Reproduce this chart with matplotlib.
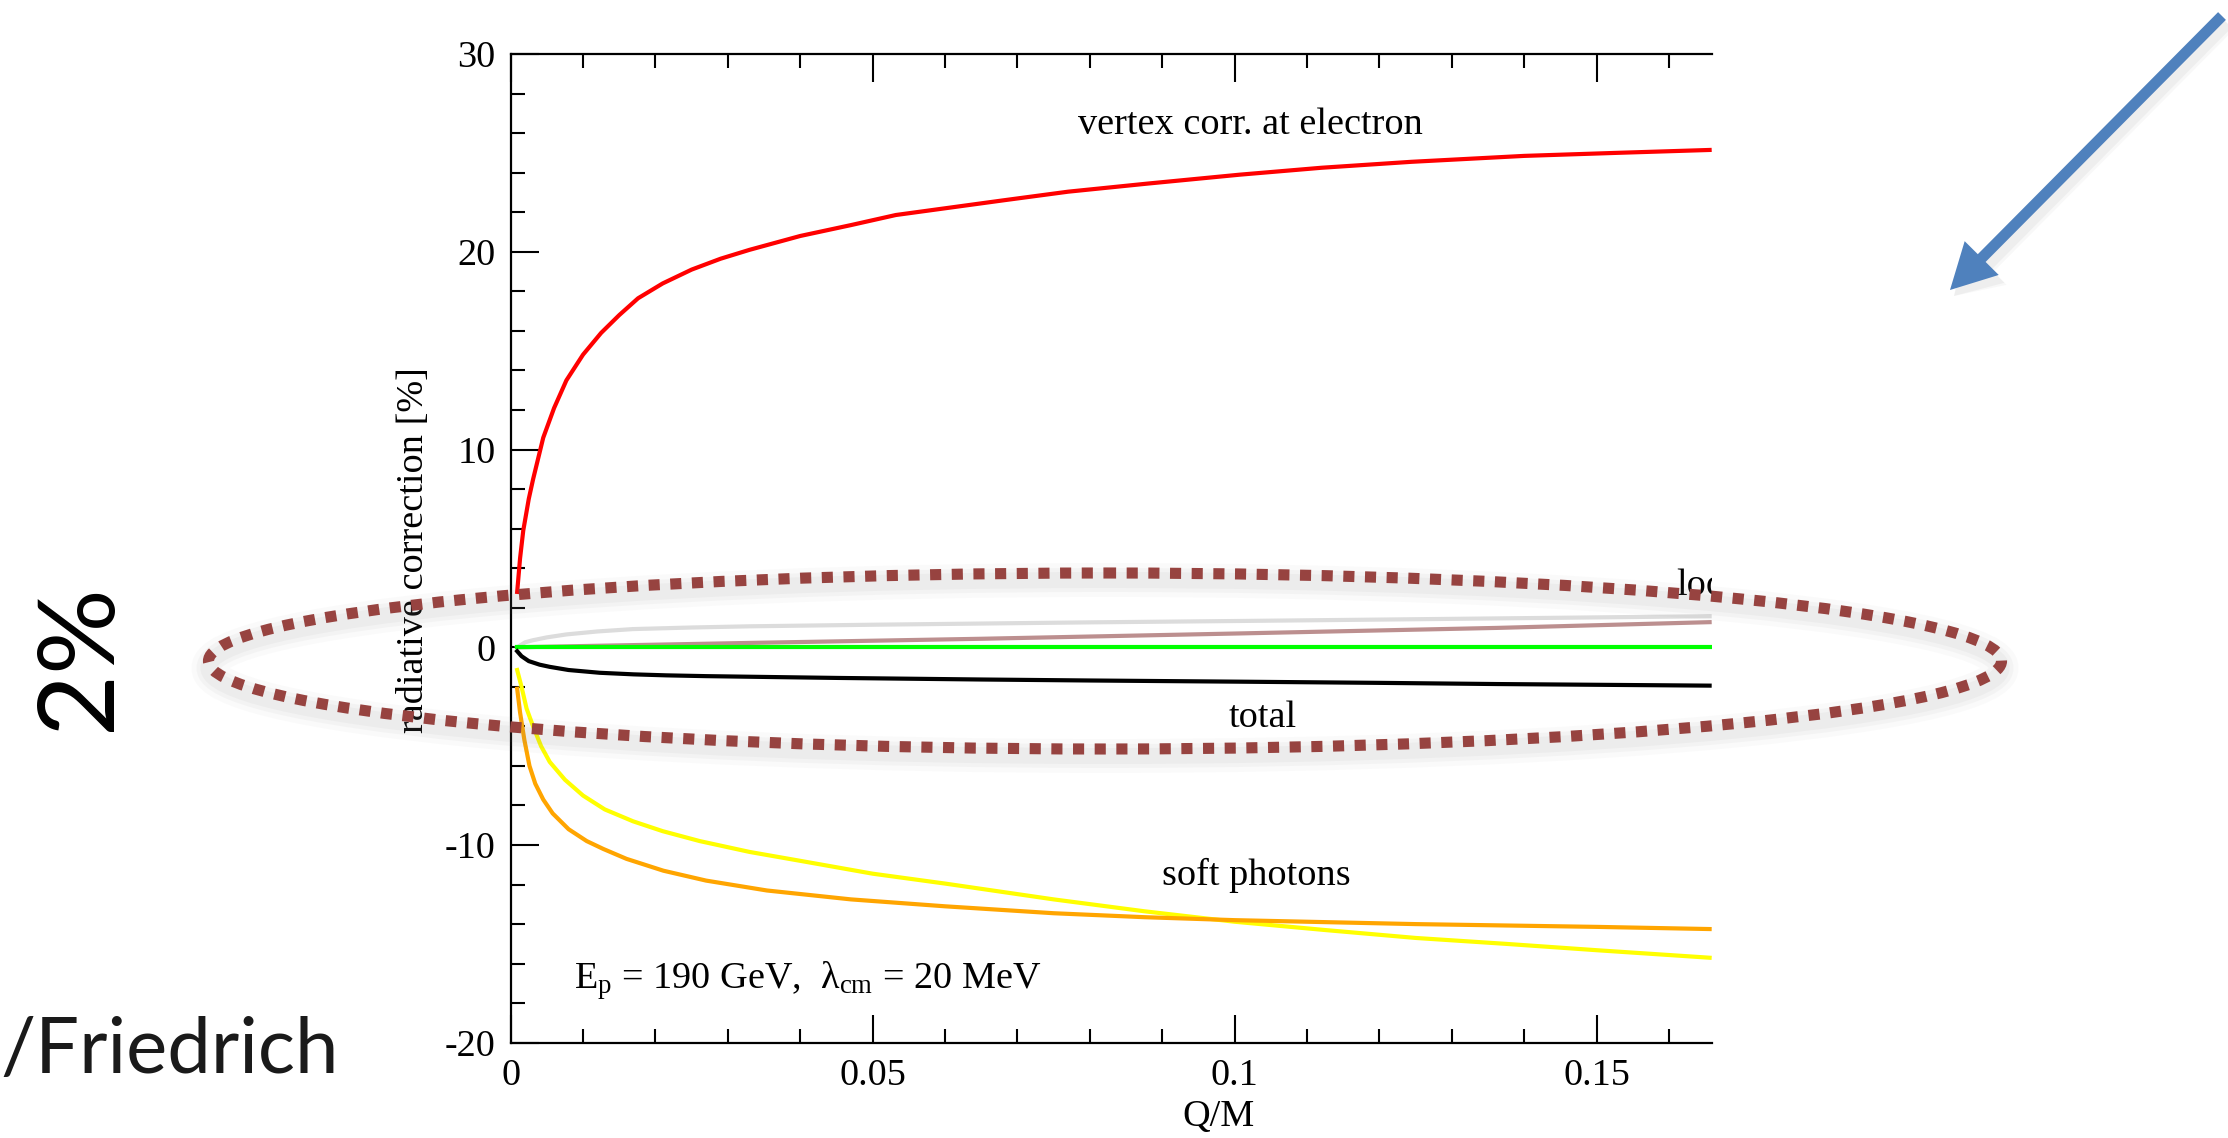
import numpy as np
import matplotlib
matplotlib.use('Agg')
import matplotlib.pyplot as plt
from matplotlib import patches

# values (x = Q/M, y = radiative correction in %)
x_red = [0.0009, 0.0013, 0.00174, 0.0025, 0.0031, 0.0045, 0.006, 0.0077, 0.010, 0.0125, 0.015, 0.0176,
         0.021, 0.025, 0.029, 0.033, 0.040, 0.047, 0.0532, 0.060, 0.068, 0.077, 0.088, 0.1007, 0.112,
         0.1244, 0.140, 0.1525, 0.1656]
y_red = [2.8, 4.5, 5.9, 7.5, 8.5, 10.6, 12.1, 13.5, 14.8, 15.9, 16.8, 17.65,
         18.4, 19.1, 19.65, 20.1, 20.8, 21.35, 21.86, 22.2, 22.6, 23.04, 23.45, 23.9, 24.25,
         24.55, 24.85, 25.0, 25.15]

x_gray = [0.0009, 0.002, 0.003, 0.005, 0.0077, 0.012, 0.0169, 0.025, 0.033, 0.05, 0.065, 0.08,
          0.1007, 0.12, 0.1363, 0.1656]
y_gray = [0.0, 0.25, 0.35, 0.5, 0.65, 0.8, 0.92, 1.0, 1.06, 1.14, 1.2, 1.26,
          1.33, 1.4, 1.46, 1.57]

x_rosy = [0.0009, 0.033, 0.065, 0.1007, 0.1363, 0.1656]
y_rosy = [0.0, 0.22, 0.43, 0.7, 0.98, 1.27]

x_green = [0.0009, 0.1656]
y_green = [0.0, 0.0]

x_total = [0.0009, 0.0015, 0.0025, 0.004, 0.0054, 0.008, 0.0123, 0.017, 0.0215, 0.027, 0.033, 0.045,
           0.065, 0.08, 0.1007, 0.12, 0.1363, 0.1656]
y_total = [-0.2, -0.45, -0.7, -0.88, -0.99, -1.15, -1.29, -1.37, -1.42, -1.46, -1.49, -1.55,
           -1.63, -1.68, -1.74, -1.8, -1.86, -1.94]

x_yellow = [0.0009, 0.0015, 0.0022, 0.0031, 0.0042, 0.0054, 0.0075, 0.010, 0.013, 0.0169, 0.021,
            0.0261, 0.033, 0.040, 0.050, 0.060, 0.075, 0.0875, 0.100, 0.1125, 0.125, 0.1375, 0.150, 0.1656]
y_yellow = [-1.15, -2.0, -3.1, -4.0, -5.0, -5.8, -6.7, -7.5, -8.2, -8.8, -9.3,
            -9.8, -10.35, -10.8, -11.45, -11.95, -12.75, -13.35, -13.88, -14.3, -14.7, -15.0, -15.32, -15.7]

x_orange = [0.0009, 0.0013, 0.0019, 0.0026, 0.0034, 0.0045, 0.0058, 0.008, 0.0105, 0.0128, 0.016,
            0.0211, 0.027, 0.0354, 0.047, 0.060, 0.075, 0.0875, 0.100, 0.125, 0.150, 0.1656]
y_orange = [-2.1, -3.3, -4.7, -6.0, -6.9, -7.7, -8.4, -9.2, -9.8, -10.2, -10.7,
            -11.3, -11.8, -12.3, -12.75, -13.1, -13.45, -13.65, -13.8, -14.0, -14.14, -14.25]

xticks = [0, 0.05, 0.1, 0.15]
xtick_labels = ['0', '0.05', '0.1', '0.15']
yticks = [-20, -10, 0, 10, 20, 30]
ytick_labels = ['-20', '-10', '0', '10', '20', '30']

plt.rcParams['font.family'] = ['Liberation Serif', 'DejaVu Serif']
plt.rcParams['mathtext.fontset'] = 'custom'
plt.rcParams['mathtext.rm'] = 'Liberation Serif'
plt.rcParams['mathtext.it'] = 'Liberation Serif'
plt.rcParams['axes.unicode_minus'] = False

fs = 27.5
fig = plt.figure(figsize=(22.28, 11.38), dpi=100)
ax = fig.add_axes([0.2292, 0.0837, 0.5391, 0.8688])

lw = 3.0
ax.plot(x_gray, y_gray, color='#dcdcdc', lw=lw)
ax.plot(x_rosy, y_rosy, color='#bc8f8f', lw=lw)
ax.plot(x_green, y_green, color='#00ff00', lw=lw)
ax.plot(x_total, y_total, color='black', lw=lw)
ax.plot(x_yellow, y_yellow, color='#ffff00', lw=lw)
ax.plot(x_orange, y_orange, color='#ffa500', lw=lw)
ax.plot(x_red, y_red, color='#ff0000', lw=lw)

ax.set_xlim(0, 0.1659)
ax.set_ylim(-20, 30)
ax.set_xticks(xticks)
ax.set_xticklabels(xtick_labels)
ax.set_yticks(yticks)
ax.set_yticklabels(ytick_labels)
ax.set_xticks(np.arange(0, 0.166, 0.01), minor=True)
ax.set_yticks(np.arange(-20, 30.1, 2), minor=True)
ax.tick_params(which='both', direction='in', top=True, right=False, labelsize=fs, width=1.5, pad=11)
ax.tick_params(which='major', length=20)
ax.tick_params(which='minor', length=10)
ax.spines['right'].set_visible(False)
for s in ['top', 'bottom', 'left']:
    ax.spines[s].set_linewidth(1.6)

ax.set_xlabel('Q/M', fontsize=fs, va='baseline', ha='center')
ax.xaxis.set_label_coords(0.589, -0.0843)
ax.set_ylabel('radiative correction [%]', fontsize=fs, va='center', ha='center')
ax.yaxis.set_label_coords(-0.0805, 0.498)

ax.text(0.0784, 25.96, 'vertex corr. at electron', fontsize=fs, va='baseline')
ax.text(0.0992, -4.04, 'total', fontsize=fs, va='baseline')
ax.text(0.0900, -12.02, 'soft photons', fontsize=fs, va='baseline')
ax.text(0.161, 2.64, 'local', fontsize=fs, va='baseline', clip_on=True)
ax.text(0.00873, -17.24, r'E$_{\rm p}$ = 190 GeV,  $\lambda_{\rm cm}$ = 20 MeV', fontsize=fs, va='baseline')

# slide overlay in pixel coordinates
ov = fig.add_axes([0, 0, 1, 1], zorder=10)
ov.set_xlim(0, 2228)
ov.set_ylim(1138, 0)
ov.axis('off')
ov.patch.set_alpha(0)

for w, a in [(34, 0.035), (24, 0.05), (16, 0.06)]:
    ov.add_patch(patches.Ellipse((1105, 668), 1793, 176, fill=False, lw=w * 0.72,
                                 edgecolor='gray', alpha=a))
ov.add_patch(patches.Ellipse((1105, 661), 1793, 176, fill=False, lw=8,
                             edgecolor='#974340', linestyle=(0, (1.0, 0.95))))

for w, a in [(22, 0.05), (16, 0.08)]:
    ov.add_patch(patches.FancyArrow(2226, 22, -272, 274, width=w, head_width=48 + w - 11, head_length=45,
                                    length_includes_head=True, color='gray', alpha=a, lw=0))
ov.add_patch(patches.FancyArrow(2222, 16, -272, 274, width=11, head_width=48, head_length=45,
                                length_includes_head=True, color='#4f81bd', lw=0))

ov.text(80, 657, '2%', fontsize=77, family='Lato', rotation=90, ha='center', va='center', color='black')
ov.text(0, 1073, '/Friedrich', fontsize=56, family='Lato', ha='left', va='baseline', color='#1a1a1a')

fig.savefig('out.png', dpi=100)
